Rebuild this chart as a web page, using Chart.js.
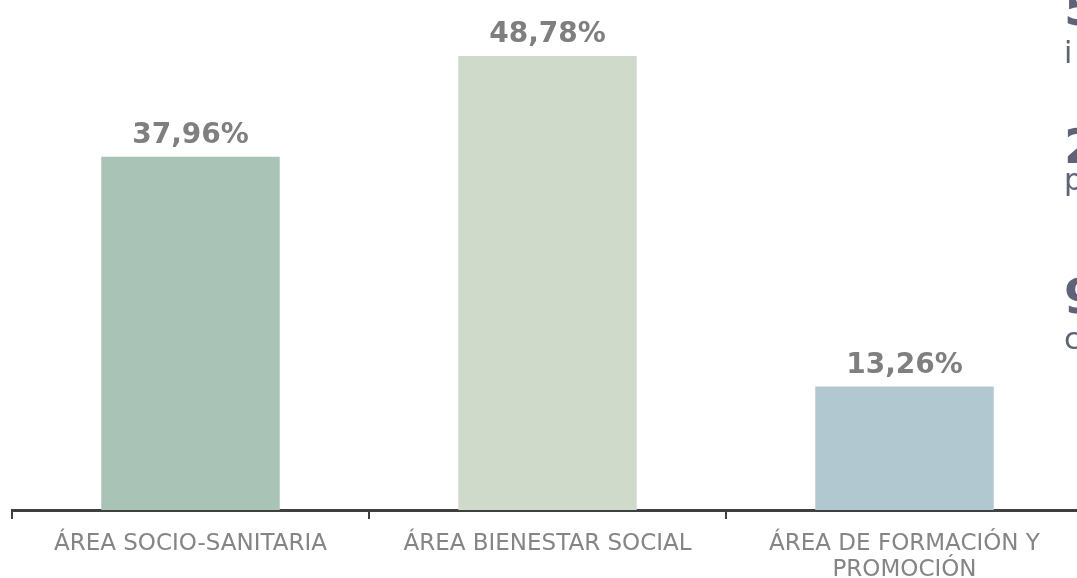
<!DOCTYPE html>
<html>
<head>
<meta charset="utf-8">
<script src="https://cdn.jsdelivr.net/npm/chart.js@4/dist/chart.umd.min.js"></script>
<style>
    html, body { margin: 0; padding: 0; background: #fff; overflow: hidden; width: 1077px; height: 578px; }
    #wrap { position: absolute; left: 0; top: 0; width: 1095px; height: 600px; }
    .side { position: absolute; left: 1064px; color: #5f6377; font-family: 'DejaVu Sans', sans-serif; white-space: nowrap; line-height: 1; }
    .big { font-size: 48px; font-weight: bold; }
    .small { font-size: 30px; }
</style>
</head>
<body>
<div id="wrap"><canvas id="chart"></canvas></div>
<div class="side big" style="top:-16px;">5</div>
<div class="side small" style="top:38px;">i</div>
<div class="side big" style="top:122px;">2</div>
<div class="side small" style="top:165px;">p</div>
<div class="side big" style="top:272px;">9</div>
<div class="side small" style="top:324px;">c</div>
<script>
const categories = [
    ['ÁREA SOCIO-SANITARIA'],
    ['ÁREA BIENESTAR SOCIAL'],
    ['ÁREA DE FORMACIÓN Y', 'PROMOCIÓN']
];
const shares = [37.96, 48.78, 13.26];
const barColors = ['#a9c4b7', '#cfdacb', '#b1c8d0'];

const valueLabelsPlugin = {
    id: 'valueLabelsPlugin',
    afterDatasetsDraw(chart) {
        const { ctx } = chart;
        ctx.save();
        ctx.font = 'bold 28px "DejaVu Sans", sans-serif';
        ctx.fillStyle = '#7f7f7f';
        ctx.textAlign = 'center';
        ctx.textBaseline = 'alphabetic';
        const meta = chart.getDatasetMeta(0);
        meta.data.forEach((bar, i) => {
            const text = shares[i].toFixed(2).replace('.', ',') + '%';
            ctx.fillText(text, bar.x, bar.y - 14);
        });
        ctx.restore();
    }
};

new Chart(document.getElementById('chart'), {
    type: 'bar',
    data: {
        labels: categories,
        datasets: [{
            data: shares,
            backgroundColor: barColors,
            borderWidth: 0,
            barPercentage: 0.5,
            categoryPercentage: 1
        }]
    },
    options: {
        responsive: true, maintainAspectRatio: false, animation: false,
        layout: { padding: { left: 12, right: 12, top: 0, bottom: 0 } },
        plugins: { legend: { display: false }, tooltip: { enabled: false } },
        scales: {
            x: {
                grid: { display: true, drawOnChartArea: false, drawTicks: true, tickLength: 9, color: '#404040', lineWidth: 2, offset: true },
                border: { display: true, color: '#404040', width: 3 },
                ticks: {
                    color: '#858585', font: { family: 'DejaVu Sans', size: 23, lineHeight: 1.13 },
                    padding: 12, maxRotation: 0, autoSkip: false
                },
                afterFit: (scale) => { scale.height = 90; }
            },
            y: { display: false, min: 0, max: 54.8 }
        }
    },
    plugins: [valueLabelsPlugin]
});
</script>
</body>
</html>
